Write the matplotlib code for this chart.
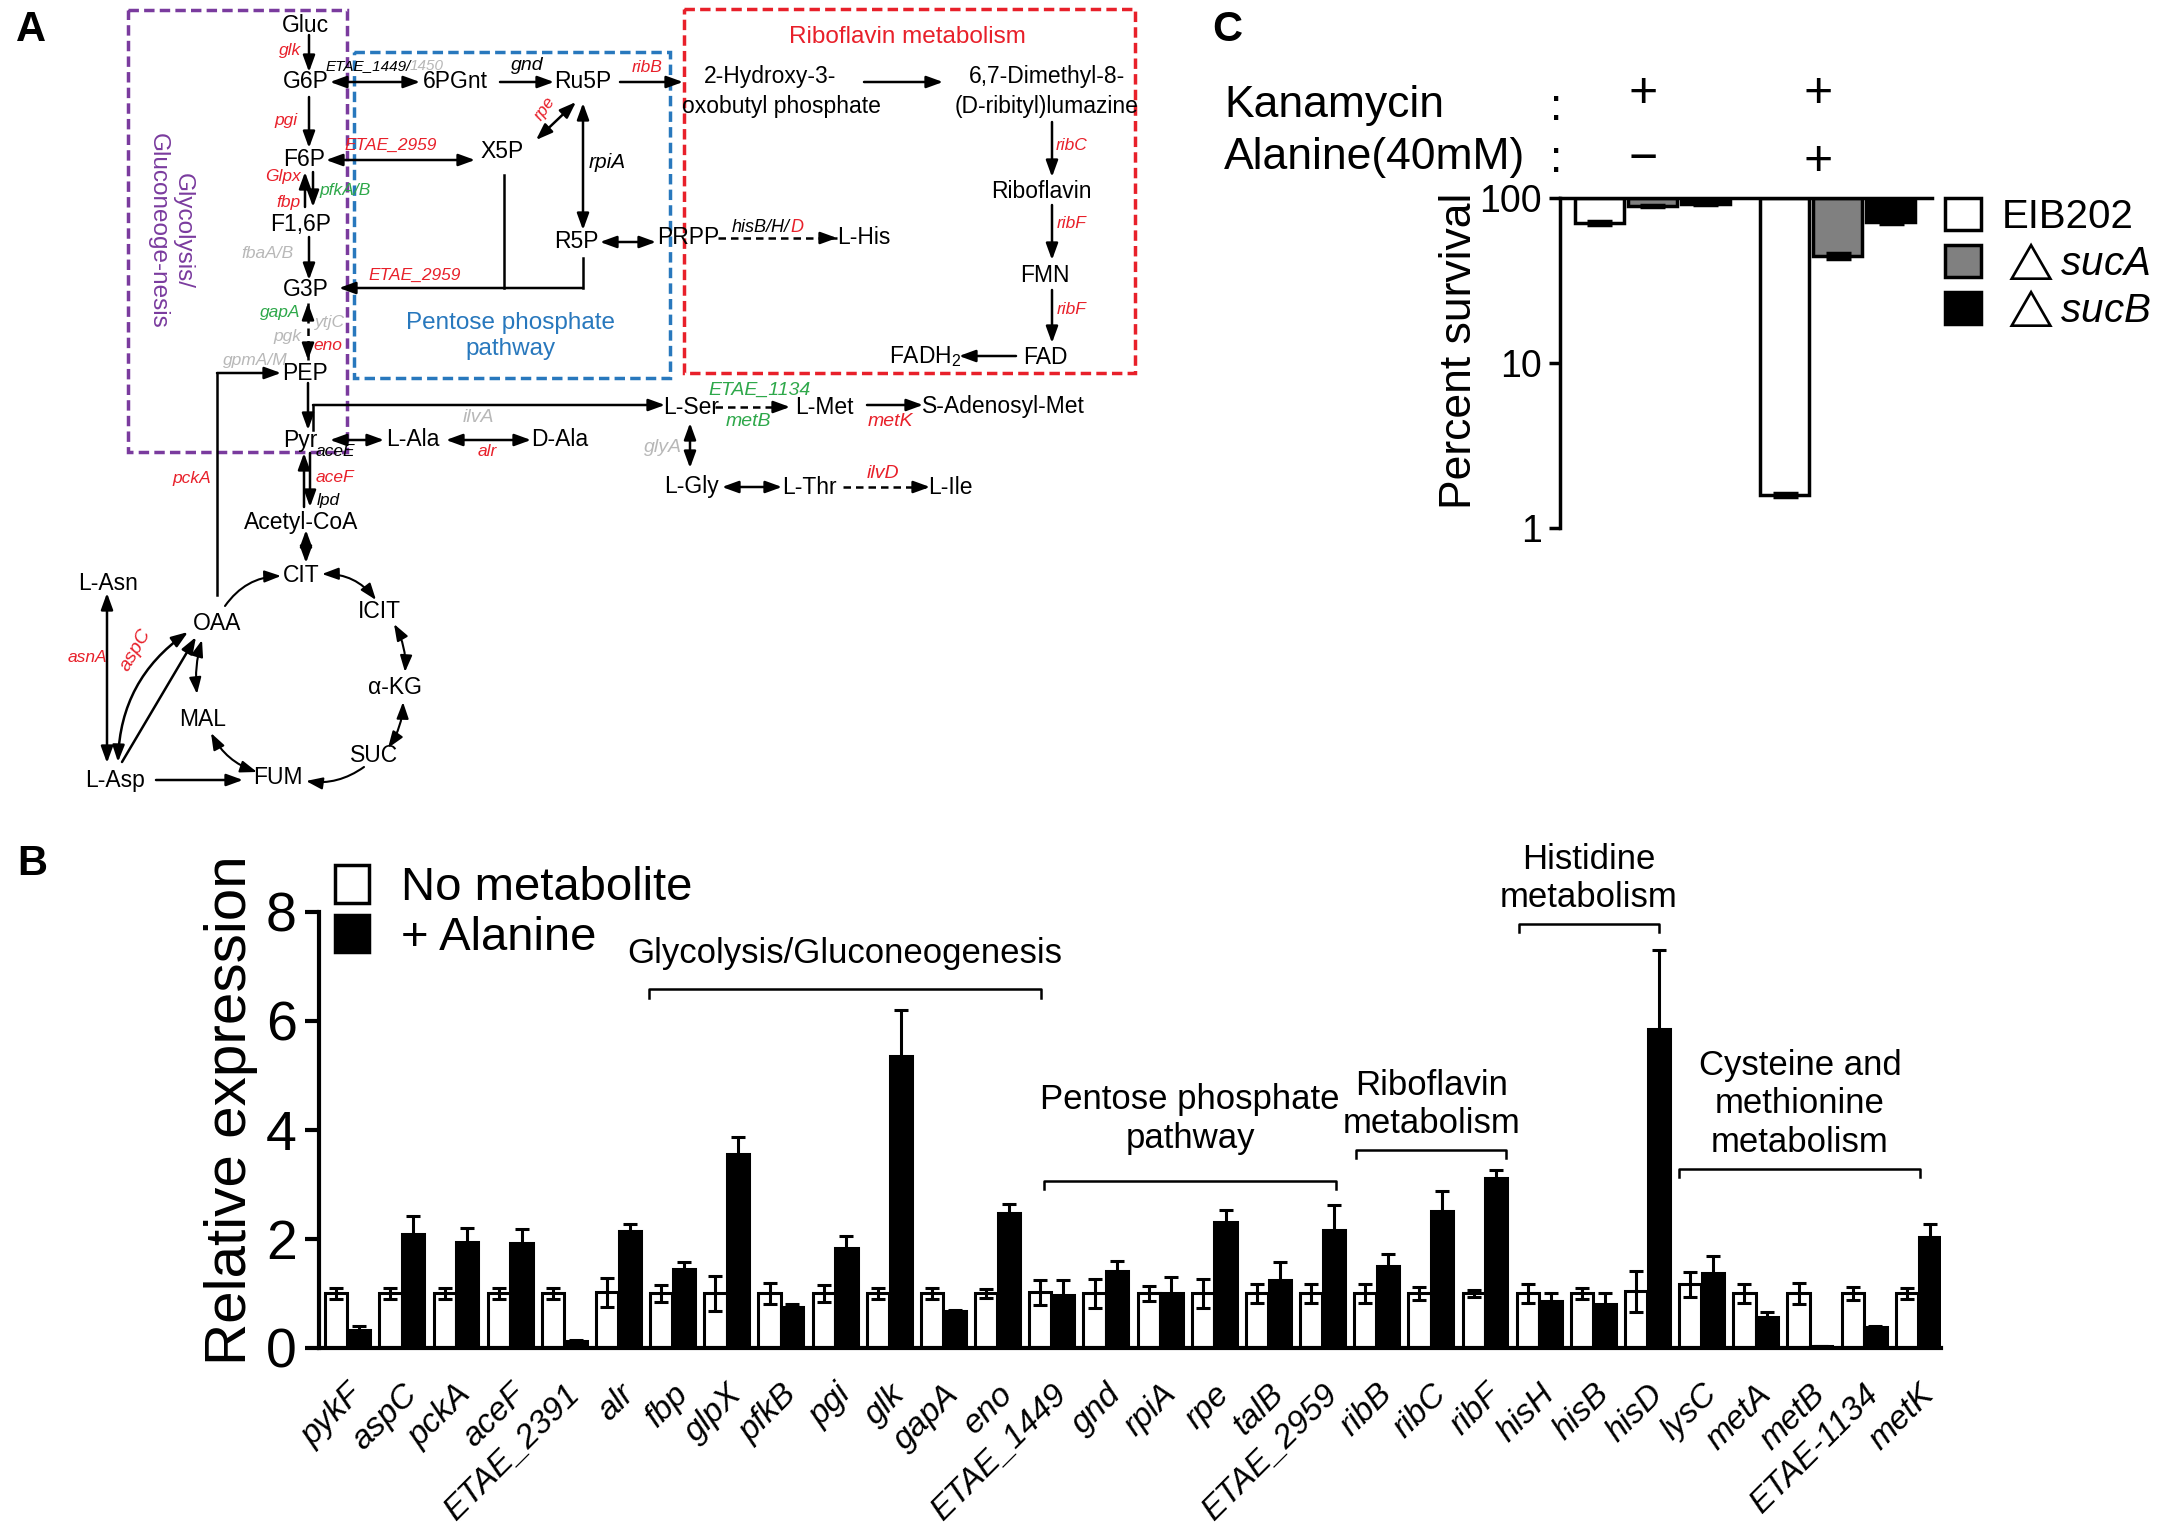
import numpy as np
import matplotlib
matplotlib.use("Agg")
import matplotlib.pyplot as plt
from matplotlib.patches import Rectangle, Patch

plt.rcParams['font.family'] = ['Liberation Sans', 'DejaVu Sans']
plt.rcParams['mathtext.fontset'] = 'custom'
plt.rcParams['mathtext.rm'] = 'Liberation Sans'
plt.rcParams['mathtext.it'] = 'Liberation Sans:italic'

RED = '#e8202a'
GREEN = '#2ea84a'
GRAY = '#b8b8b8'
PURPLE = '#7a3b9e'
BLUE = '#2878bd'

# ---- panel B data ----
genes = ['pykF', 'aspC', 'pckA', 'aceF', 'ETAE_2391', 'alr', 'fbp', 'glpX', 'pfkB', 'pgi',
         'glk', 'gapA', 'eno', 'ETAE_1449', 'gnd', 'rpiA', 'rpe', 'talB', 'ETAE_2959', 'ribB',
         'ribC', 'ribF', 'hisH', 'hisB', 'hisD', 'lysC', 'metA', 'metB', 'ETAE-1134', 'metK']
no_metab = [1.0, 1.0, 1.0, 1.0, 1.0, 1.02, 1.0, 1.0, 1.0, 1.0,
            1.0, 1.0, 1.0, 1.02, 1.0, 1.0, 1.0, 1.0, 1.0, 1.0,
            1.0, 1.0, 1.0, 1.0, 1.04, 1.17, 1.0, 1.0, 1.0, 1.0]
no_metab_err = [0.1, 0.1, 0.1, 0.1, 0.1, 0.27, 0.16, 0.32, 0.2, 0.15,
                0.1, 0.1, 0.08, 0.23, 0.26, 0.13, 0.26, 0.17, 0.17, 0.18,
                0.12, 0.06, 0.18, 0.1, 0.38, 0.23, 0.18, 0.2, 0.12, 0.1]
alanine = [0.33, 2.1, 1.95, 1.92, 0.13, 2.14, 1.44, 3.55, 0.75, 1.84,
           5.36, 0.67, 2.48, 0.98, 1.41, 1.0, 2.31, 1.24, 2.16, 1.51,
           2.52, 3.12, 0.87, 0.8, 5.86, 1.38, 0.56, 0.03, 0.38, 2.04]
alanine_err = [0.07, 0.33, 0.26, 0.26, 0.01, 0.14, 0.13, 0.32, 0.05, 0.21,
               0.84, 0.03, 0.16, 0.27, 0.19, 0.31, 0.22, 0.33, 0.47, 0.22,
               0.36, 0.15, 0.13, 0.2, 1.45, 0.3, 0.1, 0.0, 0.02, 0.23]

pathways = ['Glycolysis/Gluconeogenesis', 'Pentose phosphate\npathway', 'Riboflavin\nmetabolism',
            'Histidine\nmetabolism', 'Cysteine and\nmethionine\nmetabolism']
path_x0 = [5.56, 12.86, 18.62, 21.62, 24.59]
path_x1 = [12.8, 18.25, 21.39, 24.22, 29.04]
path_y = [6.58, 3.06, 3.63, 7.78, 3.29]
path_text_y = [7.24, 4.2, 4.47, 8.62, 4.48]

# ---- panel C data ----
strains = ['EIB202', r'$\triangle\mathit{sucA}$', r'$\triangle\mathit{sucB}$']
surv_kan = [70.5, 89.5, 92.0]
surv_kan_err = [2.0, 1.5, 1.0]
surv_kan_ala = [1.58, 44.6, 71.6]
surv_kan_ala_err = [0.04, 2.0, 1.5]
strain_colors = ['white', '#808080', 'black']

fig = plt.figure(figsize=(21.61, 15.40), dpi=100)

# ---------------- panel A (pixel coordinates) ----------------
ax0 = fig.add_axes([0, 0, 1, 1])
ax0.set_xlim(0, 2161)
ax0.set_ylim(1540, 0)
ax0.axis('off')


def T(x, y, s, fs=16.5, c='black', **kw):
    ax0.text(x, y, s, fontsize=fs, color=c, ha='center', va='center', **kw)


def G(x, y, s, c, fs=12.5, **kw):
    ax0.text(x, y, s, fontsize=fs, color=c, style='italic', ha='center', va='center', **kw)


def A(p, q, both=False, rad=0.0, lw=1.8):
    st = ('<|-|>' if both else '-|>') + ',head_length=0.55,head_width=0.2'
    ax0.annotate('', xy=q, xytext=p,
                 arrowprops=dict(arrowstyle=st, lw=lw, color='black', shrinkA=0, shrinkB=0,
                                 mutation_scale=18, connectionstyle='arc3,rad=%s' % rad))


def D(p, q, both=False):
    ax0.plot([p[0], q[0]], [p[1], q[1]], color='black', lw=1.8, ls=(0, (3, 2)))
    L = np.hypot(q[0] - p[0], q[1] - p[1])
    ux, uy = (q[0] - p[0]) / L, (q[1] - p[1]) / L
    A((q[0] - ux * 12, q[1] - uy * 12), q)
    if both:
        A((p[0] + ux * 12, p[1] + uy * 12), p)


def line(xs, ys):
    ax0.plot(xs, ys, color='black', lw=1.8)


# boxes
ax0.add_patch(Rectangle((128, 10), 219, 442, fill=False, ec=PURPLE, lw=2.5, ls=(0, (3, 1.5))))
ax0.add_patch(Rectangle((354, 52), 316, 326, fill=False, ec=BLUE, lw=2.5, ls=(0, (3, 1.5))))
ax0.add_patch(Rectangle((684, 9), 451, 364, fill=False, ec=RED, lw=2.5, ls=(0, (3, 1.5))))

ax0.text(31, 30, 'A', fontsize=30, fontweight='bold', ha='center', va='center')
ax0.text(32, 864, 'B', fontsize=30, fontweight='bold', ha='center', va='center')
ax0.text(1227, 30, 'C', fontsize=30, fontweight='bold', ha='center', va='center')

T(907, 37, 'Riboflavin metabolism', fs=17.5, c=RED)
T(511, 336, 'Pentose phosphate\npathway', fs=17.5, c=BLUE, linespacing=1.25)
T(170, 231, 'Glycolysis/\nGluconeoge-nesis', fs=17.5, c=PURPLE, rotation=270, linespacing=1.2)

# metabolites
for x, y, s in [(305, 25, 'Gluc'), (306, 82, 'G6P'), (455, 82, '6PGnt'), (583, 82, 'Ru5P'),
                (304, 160, 'F6P'), (502, 152, 'X5P'), (301, 225, 'F1,6P'), (576, 242, 'R5P'),
                (688, 238, 'PRPP'), (864, 238, 'L-His'), (306, 290, 'G3P'), (305, 373, 'PEP'),
                (300, 440, 'Pyr'), (413, 440, 'L-Ala'), (560, 440, 'D-Ala'), (691, 407, 'L-Ser'),
                (824, 407, 'L-Met'), (1003, 407, 'S-Adenosyl-Met'), (691, 487, 'L-Gly'),
                (809, 487, 'L-Thr'), (950, 487, 'L-Ile'), (301, 522, 'Acetyl-CoA'),
                (301, 575, 'CIT'), (379, 612, 'ICIT'), (217, 623, 'OAA'), (395, 688, 'α-KG'),
                (203, 720, 'MAL'), (374, 755, 'SUC'), (278, 778, 'FUM'), (115, 780, 'L-Asp'),
                (108, 583, 'L-Asn'), (770, 77, '2-Hydroxy-3-'), (781, 107, 'oxobutyl phosphate'),
                (1047, 77, '6,7-Dimethyl-8-'), (1047, 107, '(D-ribityl)lumazine'),
                (1041, 192, 'Riboflavin'), (1045, 275, 'FMN'), (1045, 357, 'FAD'),
                (925, 357, r'FADH$_2$')]:
    T(x, y, s)

# enzyme labels
G(290, 50, 'glk', RED)
ax0.text(326, 66, 'ETAE_1449/', fontsize=11, style='italic', ha='left', va='center')
ax0.text(410, 66, '1450', fontsize=11, style='italic', color=GRAY, ha='left', va='center')
G(527, 66, 'gnd', 'black', fs=14)
G(647, 67, 'ribB', RED)
G(286, 120, 'pgi', RED)
G(391, 145, 'ETAE_2959', RED)
G(545, 108, 'rpe', RED, rotation=55)
G(607, 162, 'rpiA', 'black', fs=15)
G(283, 177, 'Glpx', RED)
G(345, 190, 'pfkA/B', GREEN)
G(288, 202, 'fbp', RED)
G(268, 254, 'fbaA/B', GRAY)
G(415, 275, 'ETAE_2959', RED)
G(280, 312, 'gapA', GREEN)
G(330, 323, 'ytjC', GRAY)
G(287, 337, 'pgk', GRAY)
G(328, 345, 'eno', RED)
G(255, 360, 'gpmA/M', GRAY)
ax0.text(790, 227, 'hisB/H/', fontsize=13, style='italic', ha='right', va='center')
ax0.text(790, 227, 'D', fontsize=13, style='italic', color=RED, ha='left', va='center')
G(1072, 145, 'ribC', RED)
G(1072, 223, 'ribF', RED)
G(1072, 310, 'ribF', RED)
G(478, 417, 'ilvA', GRAY, fs=14)
G(760, 390, 'ETAE_1134', GREEN, fs=14)
G(748, 422, 'metB', GREEN, fs=14)
G(890, 422, 'metK', RED, fs=14)
G(663, 448, 'glyA', GRAY, fs=14)
G(883, 473, 'ilvD', RED, fs=14)
G(487, 452, 'alr', RED)
G(335, 452, 'aceE', 'black')
G(335, 477, 'aceF', RED)
G(328, 500, 'lpd', 'black')
G(192, 478, 'pckA', RED)
G(87, 658, 'asnA', RED)
G(136, 650, 'aspC', RED, fs=14, rotation=60)

# arrows
A((309, 35), (309, 72))
A((330, 82), (420, 82), both=True)
A((500, 82), (554, 82))
A((620, 82), (683, 82))
A((309, 97), (309, 148))
A((326, 160), (475, 160), both=True)
A((536, 140), (576, 102), both=True)
A((583, 103), (583, 230), both=True)
A((600, 242), (656, 242), both=True)
A((305, 207), (305, 172))
A((313, 172), (313, 207))
A((309, 237), (309, 280))
line([583, 583], [258, 288])
line([504, 504], [175, 288])
A((583, 288), (339, 288))
D((308, 303), (308, 360), both=True)
A((308, 383), (308, 430))
line([313, 313], [430, 405])
A((313, 405), (665, 405))
A((330, 440), (384, 440), both=True)
A((446, 440), (531, 440), both=True)
line([217, 217], [595, 373])
A((217, 373), (281, 373))
A((304, 507), (304, 453))
A((310, 453), (310, 507))
A((306, 530), (306, 563), both=True)
# TCA cycle
A((225, 606), (281, 576), rad=-0.25, lw=1.5)
A((322, 574), (376, 600), both=True, rad=-0.25, lw=1.5)
A((394, 624), (405, 672), both=True, rad=-0.15, lw=1.5)
A((403, 702), (388, 748), both=True, rad=-0.15, lw=1.5)
A((364, 767), (306, 781), rad=-0.2, lw=1.5)
A((257, 772), (211, 733), both=True, rad=-0.2, lw=1.5)
A((197, 694), (202, 640), both=True, rad=-0.1, lw=1.5)
A((107, 593), (107, 763), both=True)
A((118, 762), (188, 632), both=True, rad=-0.25)
A((122, 762), (196, 637))
A((156, 780), (243, 780))
# riboflavin
A((864, 82), (943, 82))
A((1052, 122), (1052, 177))
A((1052, 205), (1052, 260))
A((1052, 290), (1052, 343))
A((1016, 356), (959, 356))
D((718, 238), (837, 238))
# serine / methionine
D((715, 407), (790, 407))
A((867, 405), (923, 405))
A((690, 423), (690, 468), both=True)
A((722, 487), (782, 487), both=True)
D((843, 487), (930, 487))

# ---------------- panel B ----------------
axB = fig.add_axes([0.1476, 0.1247, 0.7506, 0.2831])
axB.patch.set_alpha(0)
x = np.arange(len(genes))
ekw = dict(elinewidth=2.2, capsize=5, capthick=2.2, ecolor='black')
axB.bar(x - 0.21, no_metab, 0.41, color='white', edgecolor='black', lw=2.2,
        yerr=no_metab_err, error_kw=ekw, label='No metabolite')
axB.bar(x + 0.21, alanine, 0.41, color='black', edgecolor='black', lw=2.2,
        yerr=alanine_err, error_kw=ekw, label='+ Alanine')
axB.set_xlim(-0.53, 29.42)
axB.set_ylim(0, 8)
axB.set_yticks([0, 2, 4, 6, 8])
axB.tick_params(axis='y', labelsize=40, width=3, length=10, pad=6)
axB.set_xticks(x)
axB.set_xticklabels(genes, rotation=45, ha='right', rotation_mode='anchor',
                    fontsize=24, style='italic')
axB.tick_params(axis='x', length=0, pad=22)
for s in ['top', 'right']:
    axB.spines[s].set_visible(False)
for s in ['left', 'bottom']:
    axB.spines[s].set_linewidth(3)
axB.set_ylabel('Relative expression', fontsize=42)
axB.yaxis.set_label_coords(-0.0376, 0.546)

for name, x0, x1, y, ty in zip(pathways, path_x0, path_x1, path_y, path_text_y):
    axB.plot([x0, x0, x1, x1], [y - 0.15, y, y, y - 0.15], color='black', lw=1.8, clip_on=False)
    axB.text((x0 + x1) / 2, ty, name, ha='center', va='center', fontsize=25, clip_on=False)

axB.legend(handles=[Patch(facecolor='white', edgecolor='black', lw=2.5, label='No metabolite'),
                    Patch(facecolor='black', edgecolor='black', lw=2.5, label='+ Alanine')],
           loc='upper left', bbox_to_anchor=(0.0099, 1.108), frameon=False, fontsize=34,
           handlelength=0.72, handleheight=0.85, handletextpad=0.68, labelspacing=0.1,
           borderpad=0, borderaxespad=0)

# ---------------- panel C ----------------
axC = fig.add_axes([0.7219, 0.6571, 0.1721, 0.2143])
axC.patch.set_alpha(0)
axC.set_yscale('log')
pos_kan = np.array([0.0, 1.0, 2.0])
pos_ala = pos_kan + 3.5
for j in range(3):
    for pos, vals, errs in [(pos_kan, surv_kan, surv_kan_err), (pos_ala, surv_kan_ala, surv_kan_ala_err)]:
        axC.bar(pos[j], vals[j] - 100, bottom=100, width=0.92, color=strain_colors[j],
                edgecolor='black', lw=2.5)
        axC.errorbar(pos[j], vals[j], yerr=errs[j], fmt='none', ecolor='black',
                     elinewidth=2.5, capsize=9, capthick=2.5)
axC.set_ylim(1, 100)
axC.set_xlim(-0.74, 6.28)
axC.set_yticks([1, 10, 100])
axC.set_yticklabels(['1', '10', '100'])
axC.yaxis.set_minor_locator(matplotlib.ticker.NullLocator())
axC.set_xticks([])
axC.tick_params(axis='y', labelsize=27, width=2.5, length=8, pad=5)
axC.spines['bottom'].set_visible(False)
axC.spines['right'].set_visible(False)
axC.spines['top'].set_linewidth(2.5)
axC.spines['left'].set_linewidth(2.5)
axC.set_ylabel('Percent survival', fontsize=32)
axC.yaxis.set_label_coords(-0.215, 0.536)
axC.legend(handles=[Patch(facecolor=c, edgecolor='black', lw=2.5, label=l)
                    for c, l in zip(strain_colors, strains)],
           loc='upper left', bbox_to_anchor=(1.035, 1.0), frameon=False, fontsize=29,
           handlelength=0.9, handleheight=0.85, handletextpad=0.5, labelspacing=0.12,
           borderpad=0, borderaxespad=0)

ax0.text(1224, 106, 'Kanamycin', fontsize=32, ha='left', va='center')
ax0.text(1224, 158, 'Alanine(40mM)', fontsize=32, ha='left', va='center')
ax0.text(1556, 108, ':', fontsize=32, ha='center', va='center')
ax0.text(1556, 161, ':', fontsize=32, ha='center', va='center')
ax0.text(1643, 94, '+', fontsize=36, ha='center', va='center')
ax0.text(1818, 94, '+', fontsize=36, ha='center', va='center')
ax0.text(1643, 160, '−', fontsize=36, ha='center', va='center')
ax0.text(1818, 162, '+', fontsize=36, ha='center', va='center')

fig.savefig('out.png', dpi=100)
